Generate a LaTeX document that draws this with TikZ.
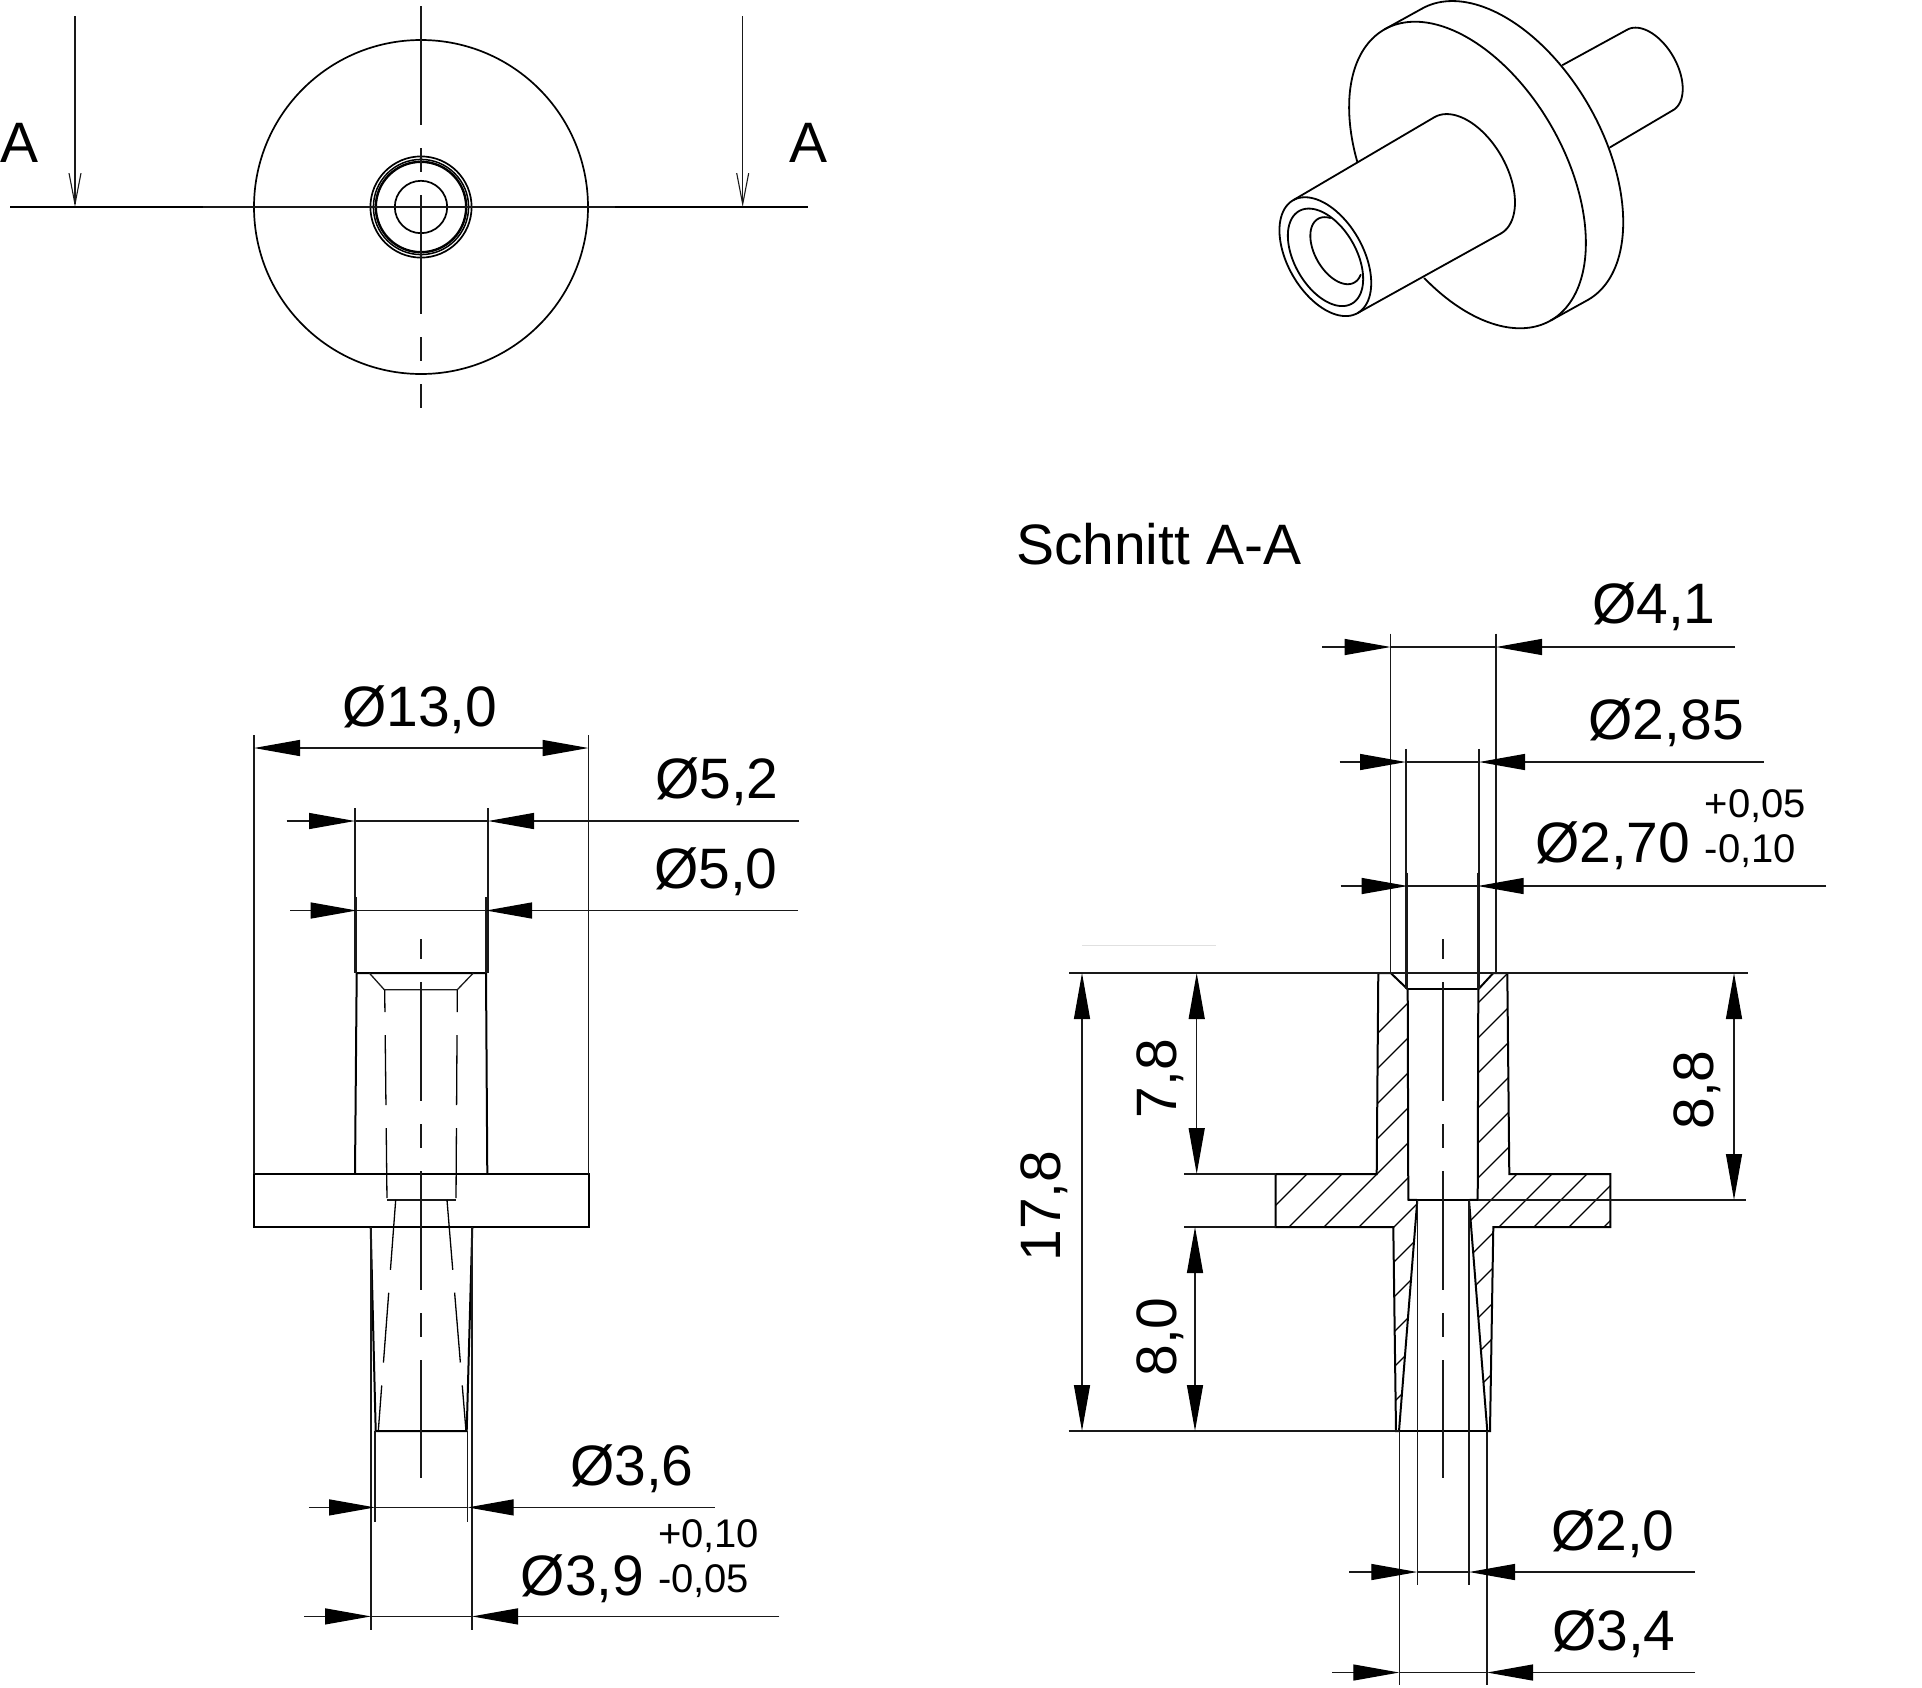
\documentclass[tikz,border=0pt]{standalone}
\usepackage{fontspec}
\setmainfont{Liberation Sans}
\usetikzlibrary{arrows.meta}
\newcommand{\bigtxt}{\fontsize{57}{60}\selectfont}
\newcommand{\smalltxt}{\fontsize{40}{44}\selectfont}
\tikzset{
  outline/.style={line width=2pt,black,line join=miter},
  thinl/.style={line width=1.3pt,black!90},
  hatchl/.style={line width=1.3pt,black},
  hiddenl/.style={line width=1.3pt,black,dash pattern=on 70pt off 23pt},
  centerl/.style={line width=1.4pt,black!90,dash pattern=on 119pt off 23pt on 24pt off 23pt},
  isol/.style={line width=1.8pt,black,line join=round,line cap=round},
  sectionl/.style={line width=2.5pt,black},
  dimtip/.tip={Triangle[length=46pt,width=16pt,black]},
  barbtip/.tip={Straight Barb[length=31pt,width=12pt,black!90,line width=1.1pt]},
  dimarrow/.style={thinl,{dimtip}-{dimtip}},
  txtb/.style={font=\bigtxt,inner sep=0pt,outer sep=0pt,anchor=base west},
  txts/.style={font=\smalltxt,inner sep=0pt,outer sep=0pt,anchor=base west},
  txtr/.style={font=\bigtxt,inner sep=0pt,outer sep=0pt,anchor=base,rotate=90}
}
% horizontal dimension with outside arrows: y, left end, left tip, right tip, right end
\newcommand{\dimout}[5]{%
  \draw[thinl,-{dimtip}] (#2,#1) -- (#3,#1);
  \draw[thinl,-{dimtip}] (#5,#1) -- (#4,#1);
  \draw[thinl] (#3,#1) -- (#4,#1);}
% isometric ellipse arc: centre x, centre y, major radius, from angle, to angle
\newcommand{\isoarc}[5]{%
  \draw plot[domain=#4:#5,samples=90,smooth] ({#1+#3*cos(\x)*0.496+0.579*#3*sin(\x)*0.868},{#2+#3*cos(\x)*0.868-0.579*#3*sin(\x)*0.496});}
\begin{document}
\begin{tikzpicture}[x=1pt,y=-1pt]
\useasboundingbox (0,0) rectangle (1922,1687);
% ---------- top view
\coordinate (c) at (421,207);
\draw[outline,line width=1.7pt] (c) circle[radius=167];
\draw[outline,line width=1.7pt] (c) circle[radius=50.6];
\draw[outline,line width=1.5pt] (c) circle[radius=47.6];
\draw[outline,line width=2.4pt] (c) circle[radius=45.2];
\draw[outline,line width=1.7pt] (c) circle[radius=26.2];
\draw[sectionl] (10,207) -- (203,207);
\draw[sectionl] (615,207) -- (808,207);
\draw[thinl] (203,207) -- (615,207);
\draw[centerl] (421,6) -- (421,408);
\draw[thinl,-{barbtip}] (75,16) -- (75,207);
\draw[thinl,-{barbtip}] (742.7,16) -- (742.7,207);
\node[txtb] (al) at (0,162) {A};
\node[txtb] (ar) at (789,162) {A};
% ---------- side view
\draw[outline] (254,1174) rectangle (588.5,1227);
\draw[outline] (355,1174) -- (356.7,973) -- (486,973) -- (487.3,1174);
\draw[outline] (370.7,1227) -- (375.7,1431) -- (466.7,1431) -- (472.3,1227);
\draw[thinl] (369.3,973) -- (384.3,989.7) -- (457.3,989.7) -- (473.3,973);
\draw[hiddenl,dash phase=48pt] (384.7,990) -- (387,1200);
\draw[hiddenl,dash phase=48pt] (457.3,990) -- (456,1200);
\draw[thinl] (387,1200) -- (456,1200);
\draw[hiddenl] (395.7,1200) -- (378.3,1431);
\draw[hiddenl] (447,1200) -- (466,1431);
\draw[centerl,dash phase=146pt] (421,939) -- (421,1478);
% side view extension lines
\draw[thinl] (254,735) -- (254,1174);
\draw[thinl] (588.5,735) -- (588.5,1174);
\draw[thinl] (355,808) -- (355,973);
\draw[thinl] (488,808) -- (488,973);
\draw[thinl] (356.7,897) -- (356.7,973);
\draw[thinl] (486,897) -- (486,973);
\draw[thinl] (375,1431) -- (375,1522);
\draw[thinl] (467.7,1431) -- (467.7,1522);
\draw[thinl] (371,1227) -- (371,1630);
\draw[thinl] (472,1227) -- (472,1630);
% side view dimensions
\draw[dimarrow] (254,748) -- (588.5,748);
\dimout{821}{286.7}{355}{488}{799}
\dimout{910.5}{290.4}{356.7}{486}{798}
\dimout{1507.4}{308.8}{375}{467.7}{714.5}
\dimout{1616.4}{304}{371}{472}{779.4}
\node[txtb] (d13) at (342,726.5) {Ø13,0};
\node[txtb] (d52) at (655,798.5) {Ø5,2};
\node[txtb] (d50) at (654,888) {Ø5,0};
\node[txtb] (d36) at (570,1485) {Ø3,6};
\node[txtb] (d39) at (520.8,1595) {Ø3,9};
\node[txts] (d39a) at (658,1547) {+0,10};
\node[txts] (d39b) at (658,1592) {-0,05};
% ---------- section view
\begin{scope}
\clip (1390.7,973) -- (1407.7,989.3) -- (1408.3,1199.7) -- (1417.3,1200) -- (1399,1431) -- (1396,1431) -- (1393.3,1227) -- (1275.7,1227) -- (1275.7,1174) -- (1376.7,1174) -- (1378.3,973) -- cycle
 (1493.3,973) -- (1478.3,989.3) -- (1477.7,1199.7) -- (1469,1200) -- (1487.3,1431) -- (1490,1431) -- (1493.3,1227) -- (1610.3,1227) -- (1610.3,1174) -- (1509.3,1174) -- (1507.3,973) -- cycle;
\foreach \k in {-3,...,10} {
  \draw[hatchl] ({2516+35*\k-900},900) -- ({2516+35*\k-1500},1500);
}
\end{scope}
\draw[outline] (1390.7,973) -- (1407.7,989.3) -- (1408.3,1199.7) -- (1417.3,1200) -- (1399,1431) -- (1396,1431) -- (1393.3,1227) -- (1275.7,1227) -- (1275.7,1174) -- (1376.7,1174) -- (1378.3,973) -- cycle;
\draw[outline] (1493.3,973) -- (1478.3,989.3) -- (1477.7,1199.7) -- (1469,1200) -- (1487.3,1431) -- (1490,1431) -- (1493.3,1227) -- (1610.3,1227) -- (1610.3,1174) -- (1509.3,1174) -- (1507.3,973) -- cycle;
\draw[outline] (1407.7,989.3) -- (1478.3,989.3);
\draw[outline] (1408.3,1199.7) -- (1477.7,1199.7);
\draw[outline] (1399,1431) -- (1487.3,1431);
\draw[centerl,dash phase=146pt] (1443,939) -- (1443,1478);
% section extension lines
\draw[thinl] (1069,973) -- (1747.6,973);
\draw[thinl] (1184,1174) -- (1275.7,1174);
\draw[thinl] (1184,1227) -- (1275.7,1227);
\draw[thinl] (1477.7,1200) -- (1746,1200);
\draw[thinl] (1068.6,1431) -- (1399,1431);
\draw[thinl] (1390.7,633.6) -- (1390.7,973);
\draw[thinl] (1496,633.6) -- (1496,973);
\draw[thinl] (1406,748.8) -- (1406,989);
\draw[thinl] (1479,748.8) -- (1479,989);
\draw[thinl] (1407.7,872.6) -- (1407.7,990);
\draw[thinl] (1477.7,872.6) -- (1477.7,990);
\draw[thinl] (1417.3,1200) -- (1417.3,1584.6);
\draw[thinl] (1469,1200) -- (1469,1584.6);
\draw[thinl] (1399.3,1431) -- (1399.3,1685);
\draw[thinl] (1487,1431) -- (1487,1685);
\draw[line width=1.2pt,black!12] (1082,945.7) -- (1215.7,945.7);
% section dimensions
\dimout{647}{1322}{1390.7}{1496}{1735}
\dimout{762}{1339.5}{1406}{1479}{1763.5}
\dimout{886}{1340.7}{1407.7}{1477.7}{1826}
\dimout{1572}{1349}{1417.3}{1469}{1695}
\dimout{1672.5}{1332}{1399.3}{1487}{1695}
\draw[dimarrow] (1082,973) -- (1082,1431);
\draw[dimarrow] (1196.7,973) -- (1196.7,1174);
\draw[dimarrow] (1195,1227) -- (1195,1431);
\draw[dimarrow] (1734,973) -- (1734,1200);
\node[txtb] (title) at (1016,564) {Schnitt A-A};
\node[txtb] (d41) at (1592,623) {Ø4,1};
\node[txtb] (d285) at (1588.5,739) {Ø2,85};
\node[txtb] (d270) at (1535,862) {Ø2,70};
\node[txts] (d270a) at (1704.7,817.6) {+0,05};
\node[txts] (d270b) at (1704.7,862) {-0,10};
\node[txtb] (d20) at (1551,1550) {Ø2,0};
\node[txtb] (d34) at (1552,1650.5) {Ø3,4};
\node[txtr] (d178) at (1060,1206) {17,8};
\node[txtr] (d78) at (1176,1078.5) {7,8};
\node[txtr] (d80) at (1176,1337) {8,0};
\node[txtr] (d88) at (1713,1090) {8,8};
% ---------- isometric view
\begin{scope}[shift={(1230,0)},x=0.33333pt,y=-0.33333pt,isol]
\isoarc{286}{770}{195}{0}{360}
\isoarc{286.5}{772}{160}{0}{360}
\isoarc{318.7}{752}{110}{148.6}{386}
\draw (189.3,600.7) -- (613.3,351.5);
\draw (382.7,939.3) -- (812.7,700.5);
\isoarc{713}{526}{201}{0}{180}
\isoarc{712.5}{525}{503}{-66}{247}
\isoarc{824.5}{463}{503}{0}{180}
\draw (463,88.4) -- (575,26.4);
\draw (962,961.6) -- (1074,899.6);
\isoarc{1260}{210}{139}{0}{180}
\draw (998,195) -- (1191,89.4);
\draw (1329,330.6) -- (1140,442);
\end{scope}
\end{tikzpicture}
\end{document}
